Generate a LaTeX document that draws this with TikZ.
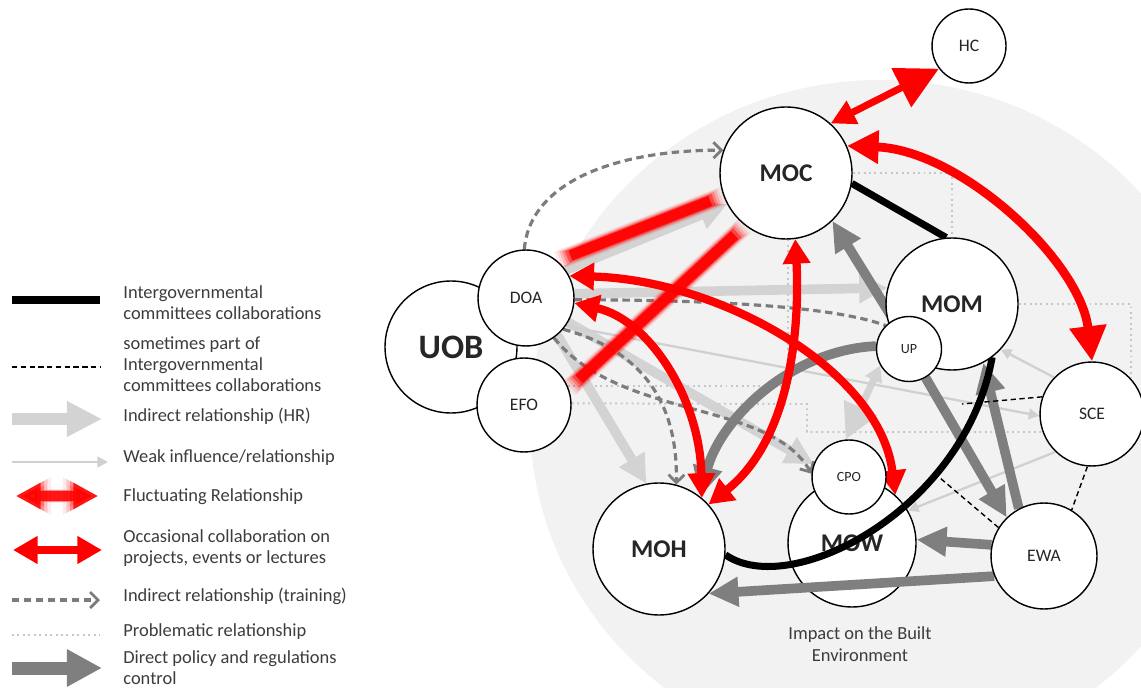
\documentclass[tikz,border=0pt]{standalone}
\usepackage{fontspec}
\setmainfont{Carlito}
\usepackage{tikz}
\usetikzlibrary{arrows.meta}

\definecolor{bgcircle}{HTML}{F2F2F2}
\definecolor{lightarr}{HTML}{D3D3D3}
\definecolor{weakarr}{HTML}{D0D0D0}
\definecolor{darkarr}{HTML}{7F7F7F}
\definecolor{dashgray}{HTML}{7C7C7C}
\definecolor{dotgray}{HTML}{C6C6C6}
\definecolor{txtgray}{HTML}{3C3C3C}
\definecolor{redarr}{HTML}{FF0000}

\pgfdeclarelayer{back}
\pgfdeclarelayer{links}
\pgfsetlayers{back,links,main}

\begin{document}
\begin{tikzpicture}[x=0.02cm,y=-0.02cm,>={Triangle},
                    font=\fontsize{10.5}{12}\selectfont]
  \tikzstyle{actor}=[circle,draw=black,fill=white,line width=0.8pt,inner sep=0pt,text=black!85]
  \tikzstyle{big}=[actor,font=\fontsize{14.5}{16}\selectfont\bfseries]
  \tikzstyle{mid}=[actor,font=\fontsize{10}{12}\selectfont]
  \tikzstyle{small}=[actor,font=\fontsize{8}{10}\selectfont]
  \tikzstyle{legend}=[anchor=west,inner sep=0pt,align=left,text=txtgray]
  \tikzstyle{intergov}=[draw=black,line width=4pt]
  \tikzstyle{sometimes}=[draw=black,line width=0.8pt,dash pattern=on 3pt off 2pt]
  \tikzstyle{hr}=[draw=lightarr,line width=5.5pt,-{Triangle[length=16pt,width=16pt]}]
  \tikzstyle{weak}=[draw=weakarr,line width=1.3pt,-{Triangle[length=6pt,width=6pt]}]
  \tikzstyle{occasional}=[draw=redarr,line width=4.7pt,
      {Triangle[length=14pt,width=15pt]}-{Triangle[length=14pt,width=15pt]}]
  \tikzstyle{training}=[draw=dashgray,line width=1.8pt,dash pattern=on 4.2pt off 2.6pt,
      -{Straight Barb[length=4.5pt,width=9pt,line width=1.6pt]}]
  \tikzstyle{problem}=[draw=dotgray,line width=1.1pt,dash pattern=on 1.1pt off 2pt]
  \tikzstyle{policy}=[draw=darkarr,line width=5.5pt,-{Triangle[length=17pt,width=16pt]}]
  \tikzstyle{blur}=[draw=redarr,line cap=butt]

  \useasboundingbox (0,0) rectangle (1141,688);

  \begin{pgfonlayer}{back}
    \clip (0,0) rectangle (1141,688);
    \fill[bgcircle] (880,420) circle [x radius=350, y radius=340];
    \node[big] (MOW) at (852,543) [minimum size=2.56cm] {MOW};
  \end{pgfonlayer}

  % actors
  \node[actor,font=\fontsize{19.5}{22}\selectfont\bfseries,minimum size=2.64cm] (UOB) at (451,347) {UOB};
  \node[mid] (DOA) at (526,298) [minimum size=1.92cm] {DOA};
  \node[mid] (EFO) at (524,405) [minimum size=1.88cm] {EFO};
  \node[big] (MOC) at (786,173) [minimum size=2.64cm] {MOC};
  \node[mid] (HC)  at (969,46)  [minimum size=1.48cm] {HC};
  \node[big] (MOM) at (952,304) [minimum size=2.64cm] {MOM};
  \node[small] (UP) at (909,349) [minimum size=1.3cm] {UP};
  \node[mid] (SCE) at (1092,414) [minimum size=2.08cm] {SCE};
  \node[mid] (EWA) at (1044,556) [minimum size=2.12cm] {EWA};
  \node[small] (CPO) at (849,477) [minimum size=1.48cm] {CPO};
  \node[big] (MOH) at (659,549) [minimum size=2.64cm] {MOH};
  \node[text=txtgray,align=center,font=\fontsize{10.5}{12.4}\selectfont] (impact) at (860,644)
       {Impact on the Built\\Environment};

  \coordinate (sceend) at (962,404);
  \coordinate (ewaend) at (933,472);

  \begin{pgfonlayer}{links}
    % problematic relationships
    \draw[problem] (EFO.24) -| (MOC.-88);
    \draw[problem] (EFO.2) -- (807,404) |- (SCE.200);
    \draw[problem] (MOC.0) -| (MOM.90);
    \draw[problem] (MOM.0) -| (SCE.43);

    % indirect (HR) and weak
    \draw[hr] (DOA.35) -- (MOC.208);
    \draw[hr] (DOA.5) -- (MOM.166);
    \draw[hr] (DOA.-50) -- (MOH.101);
    \draw[hr] (DOA.-30) -- (CPO.160);
    \draw[hr,line width=4pt,{Triangle[length=9pt,width=10pt]}-{Triangle[length=20pt,width=20pt]}]
         (UP.-150) -- (CPO.95);
    \draw[weak] (DOA.-35) -- (SCE.182);
    \draw[weak] (SCE.136) -- (MOM.-43);
    \draw[weak] (SCE.226) -- (MOW.30);

    % training
    \draw[training] (DOA.92) .. controls (530,180) and (620,150) .. (MOC.160);
    \draw[training] (DOA.-40) .. controls (640,350) and (678,400) .. (MOH.75);
    \draw[training] (DOA.-55) .. controls (620,420) and (770,400) .. (CPO.175);
    \draw[training,-] (DOA.-2) .. controls (700,300) and (830,305) .. (UP.135);

    % policy control
    \draw[policy] (UP.118) -- (MOC.-46);
    \draw[policy] (UP.175) .. controls (790,350) and (720,420) .. (MOH.52);
    \draw[policy] (UP.-60) -- (EWA.134);
    \draw[policy] (EWA.118) -- (MOM.-62);
    \draw[policy] (EWA.168) -- (MOW.3);
    \draw[policy] (EWA.202) -- (MOH.-42);

    % sometimes part of committees
    \draw[sometimes] (SCE.161) -- (sceend);
    \draw[sometimes] (SCE.-95) -- (EWA.59);
    \draw[sometimes] (EWA.148) -- (ewaend);

    % fluctuating
    \foreach \w/\o/\s in {11/.06/0,10/.1/1.5,9/.16/3,8/.25/4.5,7/.45/6,6/.9/8}{
      \draw[blur,line width=\w pt,draw opacity=\o,shorten <=\s pt,shorten >=\s pt] (DOA.50) -- (MOC.200);
      \draw[blur,line width=\w pt,draw opacity=\o,shorten <=\s pt,shorten >=\s pt] (EFO.20) -- (MOC.232);
    }

    % occasional collaboration
    \draw[occasional,line width=4pt,{Triangle[length=14pt,width=14pt]}-{Triangle[length=24pt,width=24pt]}]
         (MOC.48) -- (HC.217);
    \draw[occasional,line width=5pt,{Triangle[length=18pt,width=18pt]}-{Triangle[length=20pt,width=20pt]}]
         (MOC.24) .. controls (960,150) and (1080,260) .. (SCE.90);
    \draw[occasional] (DOA.27) .. controls (720,280) and (880,370) .. (MOW.48);
    \draw[occasional] (DOA.-6) .. controls (650,320) and (700,400) .. (MOH.50);
    \draw[occasional] (MOC.-82) .. controls (800,330) and (790,440) .. (MOH.42);

    % intergovernmental committees
    \draw[intergov] (MOC.-9) -- (MOM.95);
    \draw[intergov] (MOH.-5) .. controls (790,600) and (965,510) .. (MOM.-53);
  \end{pgfonlayer}

  % legend
  \draw[intergov] (12,300) -- (100,300);
  \draw[sometimes] (12,367) -- (100,367);
  \draw[hr,line width=6.8pt,-{Triangle[length=20pt,width=19pt]}] (12,419) -- (102,419);
  \draw[weak,line width=1.6pt] (12,462) -- (108,462);
  \foreach \w/\o/\l in {8/.08/20,7/.15/18,6.5/.3/16,6/.85/14}
    \draw[blur,line width=\w pt,opacity=\o,
          {Triangle[length=\l pt,width=\l pt]}-{Triangle[length=\l pt,width=\l pt]}] (16,496) -- (98,496);
  \draw[occasional,line width=4pt] (13,550) -- (102,550);
  \draw[training] (12,600) -- (100,600);
  \draw[problem] (12,635) -- (100,635);
  \draw[policy,line width=7.4pt,-{Triangle[length=20pt,width=20pt]}] (12,668) -- (102,668);

  \node[legend] (l1) at (123,303) {Intergovernmental\\committees collaborations};
  \node[legend] (l2) at (123,364) {sometimes part of\\Intergovernmental\\committees collaborations};
  \node[legend] (l3) at (123,416) {Indirect relationship (HR)};
  \node[legend] (l4) at (123,458) {Weak influence/relationship};
  \node[legend] (l5) at (123,497) {Fluctuating Relationship};
  \node[legend] (l6) at (123,548) {Occasional collaboration on\\projects, events or lectures};
  \node[legend] (l7) at (123,596) {Indirect relationship (training)};
  \node[legend] (l8) at (123,632) {Problematic relationship};
  \node[legend] (l9) at (123,668) {Direct policy and regulations\\control};
\end{tikzpicture}
\end{document}
